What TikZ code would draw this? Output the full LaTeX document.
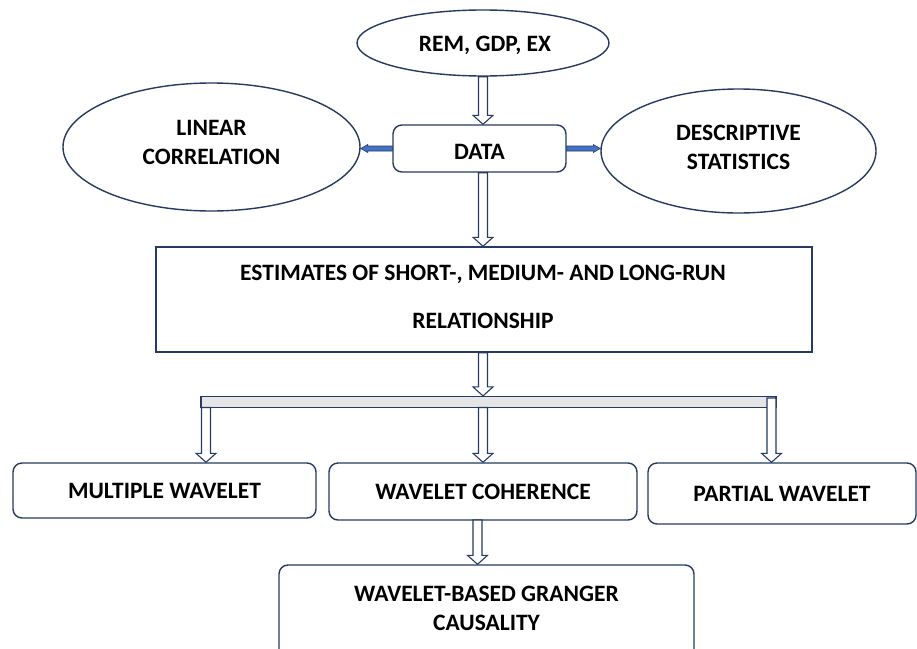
\documentclass[tikz,border=0pt]{standalone}
\usepackage{fontspec}
\setmainfont{Carlito}
\usetikzlibrary{shapes.geometric,calc}
\definecolor{navy}{RGB}{38,58,98}
\definecolor{arrowblue}{RGB}{68,114,196}
\definecolor{barfill}{RGB}{229,229,229}

% hollow downward block arrow: x and start height from #1, end height from #2
\newcommand{\blockarrow}[2]{%
  \draw[hollowarrow] let \p1=(#1), \p2=(#2) in
    (\x1-4.5pt,\y1) -- (\x1+4.5pt,\y1) -- (\x1+4.5pt,\y2+9pt) --
    (\x1+10pt,\y2+9pt) -- (\x1,\y2) -- (\x1-10pt,\y2+9pt) --
    (\x1-4.5pt,\y2+9pt) -- cycle;}
% thin filled horizontal arrow: height and start from #1, end from #2
\newcommand{\sidearrow}[2]{%
  \draw[solidarrow] let \p1=(#1), \p2=(#2), \n1={sign(\x2-\x1)} in
    (\x1,\y1+2.5pt) -- (\x2-\n1*7pt,\y1+2.5pt) -- (\x2-\n1*7pt,\y1+4pt) --
    (\x2,\y1) -- (\x2-\n1*7pt,\y1-4pt) -- (\x2-\n1*7pt,\y1-2.5pt) --
    (\x1,\y1-2.5pt) -- cycle;}

\tikzset{
  label font/.style={font=\fontsize{23.5}{29}\selectfont\bfseries},
  oval/.style={ellipse, draw=navy, line width=1.4pt, fill=white, inner sep=0pt, label font, align=center},
  roundbox/.style={rectangle, rounded corners=9pt, draw=navy, line width=1.4pt, fill=white, inner sep=0pt, label font, align=center},
  squarebox/.style={rectangle, draw=navy, line width=1.4pt, fill=white, inner sep=0pt, label font, align=center},
  hollowarrow/.style={draw=navy, line width=1.1pt, fill=white, line join=miter},
  solidarrow/.style={draw=navy, line width=0.6pt, fill=arrowblue},
}

\begin{document}
\begin{tikzpicture}[x=1pt,y=-1pt]
\useasboundingbox (0,0) rectangle (917,648);

% top row
\node[oval, minimum width=252pt, minimum height=66pt] (vars) at (483,43) {};
\node[label font] (varst) at (485,45) {REM, GDP, EX};
\node[roundbox, minimum width=173pt, minimum height=47pt] (data) at (479.5,148.5) {};
\node[label font] (datat) at (479.5,151.5) {DATA};
\node[oval, minimum width=297pt, minimum height=128pt] (lin) at (211.5,147) {};
\node[label font, align=center] (lint) at (211.5,142) {LINEAR\\CORRELATION};
\node[oval, minimum width=275pt, minimum height=124pt] (desc) at (738.5,151) {};
\node[label font, align=center] (desct) at (738.5,147) {DESCRIPTIVE\\STATISTICS};

% estimates
\node[squarebox, minimum width=656pt, minimum height=105pt] (est) at (484,299.5) {};
\node[font=\fontsize{23.5}{48}\selectfont\bfseries, align=center] (estt) at (483,297)
  {ESTIMATES OF SHORT-, MEDIUM- AND LONG-RUN\\RELATIONSHIP};

% distribution bar
\node[rectangle, draw=navy, line width=1.2pt, fill=barfill, inner sep=0pt,
      minimum width=575pt, minimum height=11pt] (bar) at (488.5,402) {};

% wavelet methods
\node[roundbox, minimum width=303pt, minimum height=55pt] (mw) at (164.5,490.5) {MULTIPLE WAVELET};
\node[roundbox, minimum width=308pt, minimum height=57pt] (wc) at (483,491.5) {WAVELET COHERENCE};
\node[roundbox, minimum width=268pt, minimum height=61pt] (pw) at (782,493.5) {PARTIAL WAVELET};
\node[roundbox, minimum width=415pt, minimum height=110pt] (gc) at (486.5,620) {};
\node[label font, align=center] (gct) at (486.5,608) {WAVELET-BASED GRANGER\\CAUSALITY};

% connectors
\coordinate (barL) at (206,407.5);
\coordinate (barM) at (483,407.5);
\coordinate (barR) at (771.5,398);
\coordinate (wcS) at (477.5,520);

\blockarrow{vars.south}{data.north}
\blockarrow{$(data.south)+(3.5,0)$}{est.north}
\blockarrow{$(est.south)+(-1,0)$}{bar.north}
\blockarrow{barL}{mw.north}
\blockarrow{barM}{wc.north}
\blockarrow{barR}{pw.north}
\blockarrow{wcS}{gc.north}

\sidearrow{data.west}{lin.east}
\sidearrow{data.east}{desc.west}
\end{tikzpicture}
\end{document}
